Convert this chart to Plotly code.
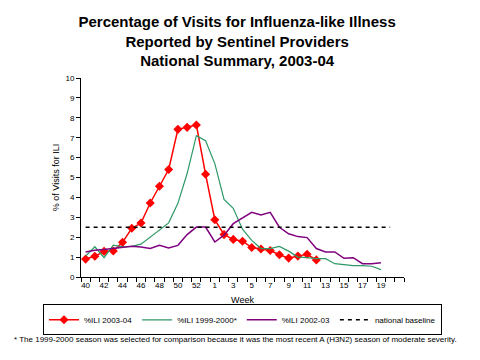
import plotly.graph_objects as go

WEEKS = [str(w) for w in list(range(40, 54)) + list(range(1, 22))]
TICK_LABELS = ["40", "", "42", "", "44", "", "46", "", "48", "", "50", "", "52", "",
               "1", "", "3", "", "5", "", "7", "", "9", "", "11", "", "13", "", "15", "",
               "17", "", "19", "", ""]

ILI_2003_04 = [0.9, 1.04, 1.29, 1.31, 1.74, 2.45, 2.71, 3.72, 4.56, 5.4, 7.42, 7.52, 7.64,
               5.16, 2.88, 2.13, 1.89, 1.8, 1.48, 1.41, 1.33, 1.12, 0.95, 1.05, 1.14, 0.86]
ILI_1999_2000 = [1.05, 1.52, 0.97, 1.6, 1.51, 1.54, 1.65, 2.0, 2.35, 2.72, 3.7, 5.2, 7.1,
                 6.85, 5.7, 3.9, 3.45, 2.4, 1.84, 1.43, 1.43, 1.54, 1.3, 1.0, 0.97, 0.92,
                 0.92, 0.67, 0.62, 0.57, 0.57, 0.54, 0.37]
ILI_2002_03 = [1.26, 1.35, 1.38, 1.43, 1.51, 1.54, 1.51, 1.43, 1.59, 1.46, 1.59, 2.13, 2.51,
               2.51, 1.76, 2.1, 2.68, 2.98, 3.25, 3.12, 3.25, 2.5, 2.17, 2.03, 1.98, 1.43,
               1.26, 1.26, 0.94, 0.97, 0.67, 0.67, 0.72]
BASELINE = [2.5] * 34

FONT = "Liberation Sans, Arial, sans-serif"

fig = go.Figure()
fig.add_trace(go.Scatter(x=WEEKS[:len(ILI_2003_04)], y=ILI_2003_04, mode="lines+markers",
                         name="%ILI 2003-04", line=dict(color="#FF0000", width=1.5),
                         marker=dict(symbol="diamond", size=7, color="#FF0000")))
fig.add_trace(go.Scatter(x=WEEKS[:len(ILI_1999_2000)], y=ILI_1999_2000, mode="lines",
                         name="%ILI 1999-2000*", line=dict(color="#2E9966", width=1.2)))
fig.add_trace(go.Scatter(x=WEEKS[:len(ILI_2002_03)], y=ILI_2002_03, mode="lines",
                         name="%ILI 2002-03", line=dict(color="#800080", width=1.5)))
fig.add_trace(go.Scatter(x=WEEKS[:len(BASELINE)], y=BASELINE, mode="lines",
                         name="national baseline",
                         line=dict(color="black", width=1.5, dash="4px,4px")))

fig.update_layout(
    width=480, height=360,
    margin=dict(l=81, r=76, t=78, b=83, autoexpand=False),
    paper_bgcolor="white", plot_bgcolor="white",
    font=dict(family=FONT, size=8, color="black"),
    title=dict(text="<b>Percentage of Visits for Influenza-like Illness<br>Reported by Sentinel Providers<br>National Summary, 2003-04</b>",
               font=dict(family=FONT, size=15, color="black"),
               x=0.494, xanchor="center", xref="container",
               y=0.924, yanchor="top", yref="container"),
    showlegend=True,
    legend=dict(orientation="h", xref="paper", x=(43 - 81) / 323, xanchor="left",
                yref="paper", y=(276.7 - 304) / 199, yanchor="top",
                bordercolor="black", borderwidth=1, font=dict(family=FONT, size=8),
                itemwidth=30, tracegroupgap=0, bgcolor="rgba(0,0,0,0)"),
    xaxis=dict(type="category", categoryorder="array", categoryarray=WEEKS,
               range=[-0.5, len(WEEKS) - 0.5], automargin=False,
               tickmode="array", tickvals=WEEKS, ticktext=TICK_LABELS,
               tickson="boundaries", ticks="outside", ticklen=4, tickcolor="black",
               showline=True, linecolor="black", linewidth=1, showgrid=False,
               tickfont=dict(size=8), tickangle=0,
               title=dict(text="Week", font=dict(size=9), standoff=8)),
    yaxis=dict(range=[0, 10], dtick=1, tick0=0, ticks="outside", ticklen=4,
               tickcolor="black", showline=True, linecolor="black", linewidth=1,
               showgrid=False, zeroline=False, tickfont=dict(size=8), automargin=False,
               title=dict(text="% of Visits for ILI", font=dict(size=9), standoff=4)),
    annotations=[dict(text="* The 1999-2000 season was selected for comparison because it was the most recent A (H3N2) season of moderate severity.",
                      xref="paper", yref="paper", x=(12 - 81) / 323, y=(276.7 - 339) / 199,
                      xanchor="left", yanchor="middle", showarrow=False,
                      font=dict(family=FONT, size=8, color="black"))],
)

fig.write_html("out.html", config={"displayModeBar": False},
               post_script="document.body.style.margin='0';document.body.style.padding='0';")
